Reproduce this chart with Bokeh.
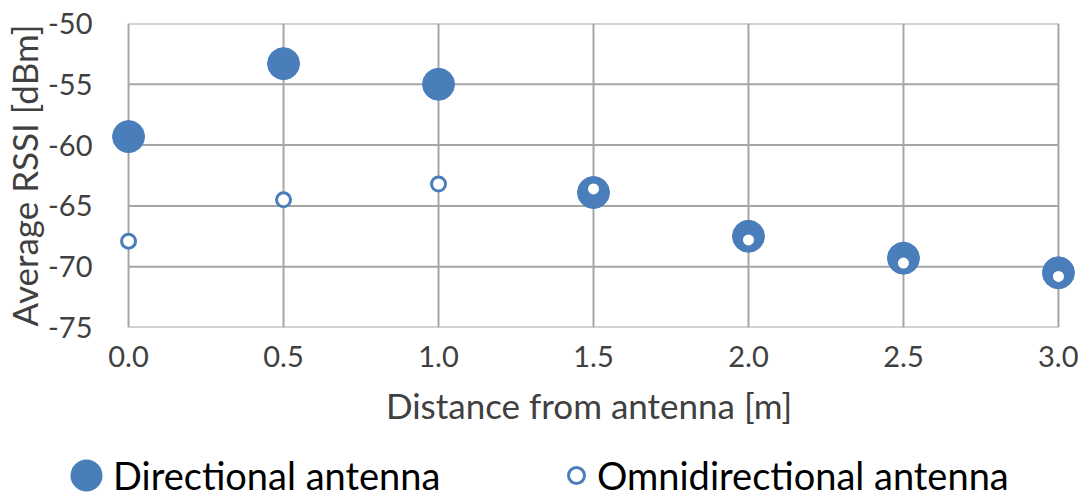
from bokeh.plotting import figure
from bokeh.layouts import column
from bokeh.models import Range1d, FixedTicker, Legend, LegendItem, PrintfTickFormatter
from bokeh.embed import file_html
from bokeh.resources import INLINE

distance = [0.0, 0.5, 1.0, 1.5, 2.0, 2.5, 3.0]
directional = [-59.3, -53.3, -55.0, -63.9, -67.5, -69.3, -70.5]
omnidirectional = [-67.9, -64.5, -63.2, -63.6, -67.8, -69.7, -70.8]
x_ticks = [0.0, 0.5, 1.0, 1.5, 2.0, 2.5, 3.0]
y_ticks = [-75, -70, -65, -60, -55, -50]

BLUE = "#4a7ebb"
GRID = "#a6a6a6"
FONT = "Lato"
TXT = "#404040"

# small padding so markers on the edges are not clipped
pad = 0.055
p = figure(width=1078, height=430, output_backend="svg", toolbar_location=None,
           x_range=Range1d(min(x_ticks) - pad, max(x_ticks) + pad),
           y_range=Range1d(min(y_ticks), max(y_ticks)),
           min_border_left=110, min_border_right=3, min_border_top=23, min_border_bottom=103)
p.grid.visible = False
p.outline_line_color = None

# grid drawn from the tick arrays (covers exactly the tick span)
p.segment(x0=[min(x_ticks)] * len(y_ticks), x1=[max(x_ticks)] * len(y_ticks),
          y0=y_ticks, y1=y_ticks, line_color=GRID, line_width=2)
p.segment(x0=x_ticks, x1=x_ticks, y0=[min(y_ticks)] * len(x_ticks),
          y1=[max(y_ticks)] * len(x_ticks), line_color=GRID, line_width=2)

p.scatter(distance, directional, size=32, fill_color=BLUE, line_color=BLUE)
p.scatter(distance, omnidirectional, size=14, fill_color="white", line_color=BLUE, line_width=3)

for ax in (p.xaxis[0], p.yaxis[0]):
    ax.major_tick_line_color = None
    ax.minor_tick_line_color = None
    ax.axis_line_color = None
    ax.major_label_text_font = FONT
    ax.major_label_text_font_size = "29px"
    ax.major_label_text_color = TXT
    ax.axis_label_text_font = FONT
    ax.axis_label_text_font_size = "35px"
    ax.axis_label_text_font_style = "normal"
    ax.axis_label_text_color = TXT

p.xaxis.ticker = FixedTicker(ticks=x_ticks)
p.yaxis.ticker = FixedTicker(ticks=y_ticks)
p.xaxis.formatter = PrintfTickFormatter(format="%.1f")
p.yaxis.formatter = PrintfTickFormatter(format="%d")
p.xaxis.axis_label = "Distance from antenna  [m]"
p.yaxis.axis_label = "Average RSSI [dBm]"
p.xaxis.major_label_standoff = 12
p.xaxis.axis_label_standoff = 14
p.yaxis.major_label_standoff = 13
p.yaxis.axis_label_standoff = 0

# legend strip (frame not aligned with the main plot, so it spans the full width)
lg = figure(width=1078, height=71, output_backend="svg", toolbar_location=None,
            x_axis_location=None, y_axis_location=None,
            x_range=Range1d(0, 1), y_range=Range1d(0, 1),
            min_border_left=0, min_border_right=0, min_border_top=0, min_border_bottom=0)
lg.frame_align = False
lg.grid.visible = False
lg.outline_line_color = None
nan = float("nan")
# legend icon of the big marker: 16 px dot with a 16 px outline -> 32 px disc
ld = lg.scatter([nan], [nan], size=16, fill_color=BLUE, line_color=BLUE, line_width=16)
lo = lg.scatter([nan], [nan], size=14, fill_color="white", line_color=BLUE, line_width=3)

leg_d = Legend(items=[LegendItem(label="Directional antenna", renderers=[ld])],
               location=(66, 3), label_text_font=FONT, label_text_font_size="38px",
               label_text_color="black", glyph_width=40, glyph_height=40, label_standoff=7,
               border_line_color=None, background_fill_alpha=0, margin=0, padding=0)
leg_o = Legend(items=[LegendItem(label="Omnidirectional antenna", renderers=[lo])],
               location=(556, 3), label_text_font=FONT, label_text_font_size="38px",
               label_text_color="black", glyph_width=40, glyph_height=40, label_standoff=1,
               border_line_color=None, background_fill_alpha=0, margin=0, padding=0)
lg.add_layout(leg_d)
lg.add_layout(leg_o)

p.frame_align = False
layout = column(p, lg, spacing=0)
open("out.html", "w").write(file_html(layout, INLINE))
